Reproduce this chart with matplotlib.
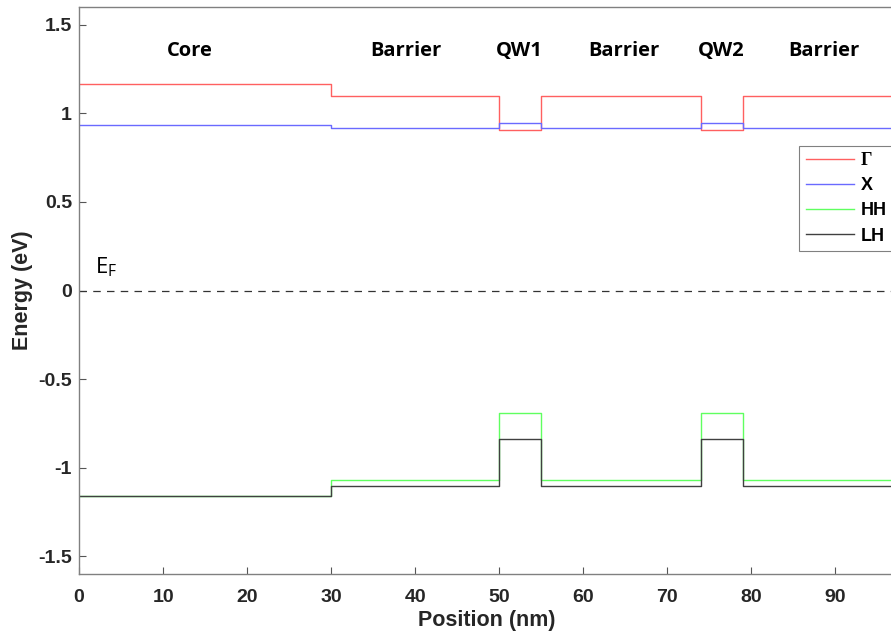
import matplotlib
matplotlib.use("Agg")
import matplotlib.pyplot as plt
import numpy as np

# Region boundaries (nm)
edges = [0, 30, 50, 55, 74, 79, 97]
# Band energies per region (eV): Core, Barrier, QW1, Barrier, QW2, Barrier
gamma = [1.167, 1.100, 0.908, 1.100, 0.908, 1.100]
xband = [0.936, 0.919, 0.948, 0.919, 0.948, 0.919]
hh = [-1.162, -1.072, -0.694, -1.072, -0.694, -1.072]
lh = [-1.162, -1.105, -0.840, -1.105, -0.840, -1.105]

region_labels = ["Core", "Barrier", "QW1", "Barrier", "QW2", "Barrier"]
label_x = [13.2, 38.9, 52.4, 64.8, 76.4, 88.6]
label_y = 1.35

fig = plt.figure(figsize=(8.91, 6.35), dpi=100)
ax = fig.add_axes([0.0887, 0.096, 0.915, 0.893])

def stepline(vals, color, label, lw=1.0):
    ys = list(vals) + [vals[-1]]
    ax.step(edges, ys, where="post", color=color, lw=lw, label=label)

stepline(gamma, "#ff6060", "Γ")
stepline(xband, "#6a6aff", "X")
stepline(hh, "#60ff60", "HH")
stepline(lh, "#404040", "LH")

ax.axhline(0, color="#333333", lw=0.9, ls=(0, (6, 5)))

ax.set_xlim(0, 97)
ax.set_ylim(-1.6, 1.6)
ax.set_xticks(np.arange(0, 100, 10))
ax.set_yticks([-1.5, -1, -0.5, 0, 0.5, 1, 1.5])
ax.set_yticklabels(["-1.5", "-1", "-0.5", "0", "0.5", "1", "1.5"])

for s in ax.spines.values():
    s.set_color("#808080")
    s.set_linewidth(1.0)
ax.tick_params(direction="in", length=5, color="#555555", labelsize=14,
               labelcolor="#262626", top=False, right=False)
ax.tick_params(axis="x", pad=11)
ax.tick_params(axis="y", pad=5)
for t in ax.get_xticklabels() + ax.get_yticklabels():
    t.set_fontfamily("Liberation Sans")
    t.set_fontweight("bold")

ax.set_xlabel("Position (nm)", fontsize=15.5, fontweight="bold",
              family="Liberation Sans", color="#262626", labelpad=3)
ax.set_ylabel("Energy (eV)", fontsize=15.5, fontweight="bold",
              family="Liberation Sans", color="#262626", labelpad=4)

for lx, lt in zip(label_x, region_labels):
    ax.text(lx, label_y, lt, ha="center", va="center", fontsize=14.5,
            fontweight="bold", family="Open Sans", color="black")

ax.text(3.2, 0.13, r"E$_\mathregular{F}$", fontsize=16, family="Open Sans",
        ha="center", va="center")

leg = ax.legend(loc="upper right", bbox_to_anchor=(0.9985, 0.755),
                prop={"weight": "bold", "family": "Liberation Sans", "size": 13},
                handlelength=2.7, fancybox=False, framealpha=1,
                edgecolor="#808080", borderpad=0.35, labelspacing=0.45,
                handletextpad=0.35, borderaxespad=0)
leg.get_frame().set_linewidth(0.8)
leg.get_texts()[0].set_family("Liberation Serif")

fig.savefig("out.png", dpi=100)
